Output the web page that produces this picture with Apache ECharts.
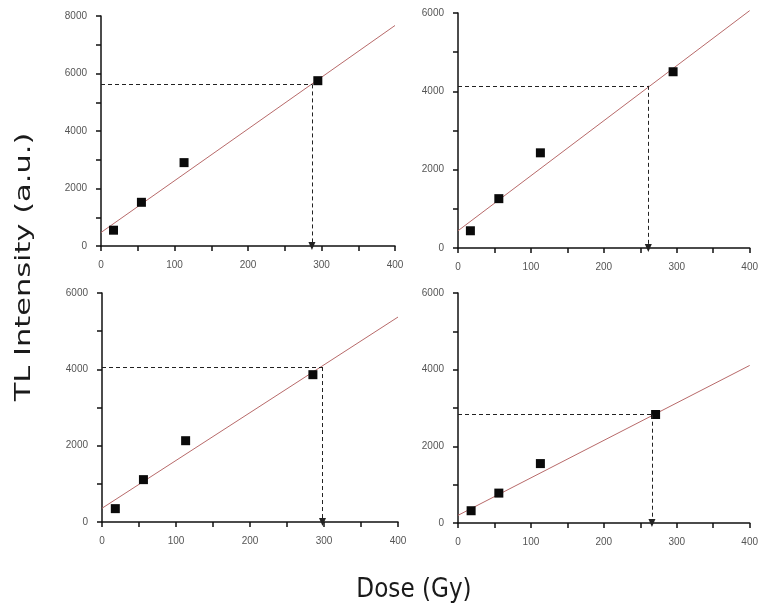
<!DOCTYPE html>
<html>
<head>
<meta charset="utf-8">
<script src="https://cdn.jsdelivr.net/npm/echarts@6/dist/echarts.min.js"></script>
<style>
    html, body { margin: 0; padding: 0; background: #fff; }
    #container { width: 761px; height: 608px; }
</style>
</head>
<body>
<div id="container"></div>
<script>
// 数据
var doseA = [17, 55, 113, 295];
var tlA = [550, 1520, 2900, 5750];
var doseB = [17, 56, 113, 295];
var tlB = [440, 1260, 2430, 4500];
var doseC = [18, 56, 113, 285];
var tlC = [350, 1110, 2130, 3860];
var doseD = [18, 56, 113, 271];
var tlD = [320, 780, 1550, 2830];

// 拟合直线两端 (dose 0 和 dose 400 处的值)
var fitDose = [0, 400];
var fitStart = [470, 440, 360, 200];
var fitEnd = [7670, 6060, 5370, 4110];

// 虚线读数
var readTL = [5620, 4140, 4060, 2825];
var readDose = [287, 261, 298, 266];

var yMax = [8000, 6000, 6000, 6000];
var xMax = 400;

var doseList = [doseA, doseB, doseC, doseD];
var tlList = [tlA, tlB, tlC, tlD];

// 每个小图的位置
var grids = [
    { left: 101, top: 16, width: 294, height: 230 },
    { left: 458, top: 13, width: 293, height: 235 },
    { left: 102, top: 293, width: 296, height: 229 },
    { left: 458, top: 293, width: 295, height: 230 }
];

function pairs(xs, ys) {
    var out = [];
    for (var i = 0; i < xs.length; i++) {
        out.push([xs[i], ys[i]]);
    }
    return out;
}

var axisColor = '#111';
var labelStyle = {
    color: '#555',
    fontFamily: 'Liberation Sans',
    fontSize: 10
};

var xAxes = [], yAxes = [], series = [];
for (var i = 0; i < 4; i++) {
    xAxes.push({
        type: 'value',
        gridIndex: i,
        min: 0,
        max: xMax,
        interval: 50,
        axisLine: { lineStyle: { color: axisColor, width: 1.5 } },
        axisTick: { show: true, length: 5, lineStyle: { color: axisColor, width: 1.5 } },
        axisLabel: Object.assign({
            margin: 14,
            showMaxLabel: true,
            formatter: function (v) {
                return v % 100 === 0 ? String(v) : '';
            }
        }, labelStyle),
        splitLine: { show: false }
    });
    yAxes.push({
        type: 'value',
        gridIndex: i,
        min: 0,
        max: yMax[i],
        interval: 1000,
        axisLine: { show: true, lineStyle: { color: axisColor, width: 1.5 } },
        axisTick: { show: true, length: 5, lineStyle: { color: axisColor, width: 1.5 } },
        axisLabel: Object.assign({
            margin: 14,
            formatter: function (v) {
                return v % 2000 === 0 ? String(v) : '';
            }
        }, labelStyle),
        splitLine: { show: false }
    });

    // 拟合线
    series.push({
        type: 'line',
        xAxisIndex: i,
        yAxisIndex: i,
        data: pairs(fitDose, [fitStart[i], fitEnd[i]]),
        symbol: 'none',
        clip: false,
        silent: true,
        lineStyle: { color: '#b86a6a', width: 1 },
        z: 2
    });

    // 数据点 + 虚线
    series.push({
        type: 'scatter',
        xAxisIndex: i,
        yAxisIndex: i,
        data: pairs(doseList[i], tlList[i]),
        symbol: 'rect',
        symbolSize: 9,
        itemStyle: { color: '#0a0a0a', opacity: 1 },
        z: 3,
        markLine: {
            silent: true,
            animation: false,
            label: { show: false },
            lineStyle: { color: '#222', width: 1, type: [4, 3] },
            data: [
                [
                    { coord: [0, readTL[i]], symbol: 'none' },
                    { coord: [readDose[i], readTL[i]], symbol: 'none' }
                ],
                [
                    { coord: [readDose[i], readTL[i]], symbol: 'none' },
                    { coord: [readDose[i], 0], symbol: 'triangle', symbolSize: [7, 8] }
                ]
            ]
        }
    });
}

var option = {
    backgroundColor: '#fff',
    animation: false,
    grid: grids,
    xAxis: xAxes,
    yAxis: yAxes,
    series: series,
    graphic: [
        {
            type: 'text',
            x: 25,
            y: 267,
            rotation: Math.PI / 2,
            scaleX: 1.45,
            style: {
                text: 'TL Intensity (a.u.)',
                fill: '#1a1a1a',
                font: '21px "DejaVu Sans"',
                textAlign: 'center',
                textVerticalAlign: 'middle'
            }
        },
        {
            type: 'text',
            x: 414,
            y: 590,
            scaleX: 0.89,
            style: {
                text: 'Dose (Gy)',
                fill: '#1a1a1a',
                font: '26px "DejaVu Sans"',
                textAlign: 'center',
                textVerticalAlign: 'middle'
            }
        }
    ]
};

var container = echarts.init(document.getElementById('container'));
container.setOption(option);
</script>
</body>
</html>
